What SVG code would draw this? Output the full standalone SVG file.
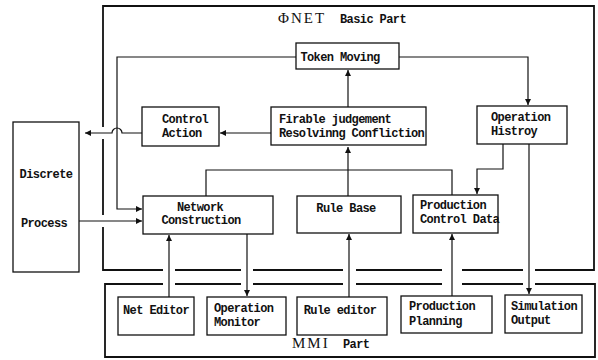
<svg xmlns="http://www.w3.org/2000/svg" width="598" height="360" viewBox="0 0 598 360">
<style>
.bg{fill:#fff}
.box{fill:#fff;stroke:#111;stroke-width:1.3}
.frame{fill:none;stroke:#111;stroke-width:1.8}
.c{fill:none;stroke:#111;stroke-width:1.2}
.t{font-family:"Liberation Mono","DejaVu Sans Mono",monospace;font-weight:bold;font-size:12px;letter-spacing:-0.6px;fill:#111}
.s{font-family:"Liberation Serif","DejaVu Serif",serif;font-size:15px;letter-spacing:2px;fill:#111}
</style>
<defs>
<marker id="ah" markerUnits="userSpaceOnUse" markerWidth="8" markerHeight="8" refX="6" refY="3" orient="auto">
<path d="M0,0 L6,3 L0,6 z" fill="#111"/>
</marker>
</defs>
<rect class="bg" x="0" y="0" width="598" height="360"/>
<g id="frames">
<path class="frame" d="M103,127 V6 H594 V270 H535 M523,270 H462 M442,270 H356 M343,270 H253 M241,270 H175 M163,270 H103 V227 M103,215 V139"/>
<path class="frame" d="M535,284 H595 V357 H105 V284 H163 M175,284 H241 M253,284 H343 M356,284 H442 M462,284 H523"/>
<text class="s" x="278" y="23">ΦNET</text>
<text class="t" x="340" y="23">Basic Part</text>
<text class="s" x="292" y="348">MMI</text>
<text class="t" x="343" y="348">Part</text>
</g>
<g id="connectors">
<path class="c" d="M296,57 H117 V209 H142" marker-end="url(#ah)"/>
<path class="c" d="M142,133 H122 A5,5 0 0 0 112,133 H85" marker-end="url(#ah)"/>
<path class="c" d="M271,133 H220" marker-end="url(#ah)"/>
<path class="c" d="M348,107 V70" marker-end="url(#ah)"/>
<path class="c" d="M399,57 H528 V105" marker-end="url(#ah)"/>
<path class="c" d="M503,144 V169 H477 V194" marker-end="url(#ah)"/>
<path class="c" d="M529,144 V294" marker-end="url(#ah)"/>
<path class="c" d="M206,196 V170 H452 V195"/>
<path class="c" d="M348,196 V147" marker-end="url(#ah)"/>
<path class="c" d="M79,221 H142" marker-end="url(#ah)"/>
<path class="c" d="M169,297 V235" marker-end="url(#ah)"/>
<path class="c" d="M247,234 V296" marker-end="url(#ah)"/>
<path class="c" d="M349,297 V234" marker-end="url(#ah)"/>
<path class="c" d="M452,296 V234" marker-end="url(#ah)"/>
</g>
<g id="discrete">
<rect class="box" x="13" y="122" width="66" height="150"/>
<text class="t" x="46" y="178" text-anchor="middle">Discrete</text>
<text class="t" x="44" y="227" text-anchor="middle">Process</text>
</g>
<g id="token">
<rect class="box" x="296" y="43" width="103" height="26"/>
<text class="t" x="340" y="61" text-anchor="middle">Token Moving</text>
</g>
<g id="control">
<rect class="box" x="142" y="107" width="77" height="39"/>
<text class="t" x="162" y="123">Control</text>
<text class="t" x="162" y="137">Action</text>
</g>
<g id="firable">
<rect class="box" x="271" y="107" width="155" height="38"/>
<text class="t" x="279" y="123">Firable judgement</text>
<text class="t" x="279" y="137">Resolvinng Confliction</text>
</g>
<g id="history">
<rect class="box" x="477" y="106" width="90" height="38"/>
<text class="t" x="491" y="121">Operation</text>
<text class="t" x="491" y="135">Histroy</text>
</g>
<g id="network">
<rect class="box" x="143" y="196" width="130" height="38"/>
<text class="t" x="200" y="211" text-anchor="middle">Network</text>
<text class="t" x="201" y="224" text-anchor="middle">Construction</text>
</g>
<g id="rulebase">
<rect class="box" x="297" y="196" width="104" height="37"/>
<text class="t" x="346" y="212" text-anchor="middle">Rule Base</text>
</g>
<g id="prodcontrol">
<rect class="box" x="413" y="195" width="85" height="38"/>
<text class="t" x="420" y="209">Production</text>
<text class="t" x="420" y="223">Control Data</text>
</g>
<g id="neteditor">
<rect class="box" x="118" y="297" width="76" height="38"/>
<text class="t" x="156" y="314" text-anchor="middle">Net Editor</text>
</g>
<g id="opmonitor">
<rect class="box" x="207" y="297" width="79" height="38"/>
<text class="t" x="214" y="312">Operation</text>
<text class="t" x="214" y="326">Monitor</text>
</g>
<g id="ruleeditor">
<rect class="box" x="297" y="297" width="90" height="38"/>
<text class="t" x="340" y="314" text-anchor="middle">Rule editor</text>
</g>
<g id="prodplanning">
<rect class="box" x="401" y="296" width="91" height="37"/>
<text class="t" x="409" y="310">Production</text>
<text class="t" x="409" y="325">Planning</text>
</g>
<g id="simulation">
<rect class="box" x="505" y="295" width="77" height="38"/>
<text class="t" x="511" y="310">Simulation</text>
<text class="t" x="511" y="324">Output</text>
</g>
</svg>
